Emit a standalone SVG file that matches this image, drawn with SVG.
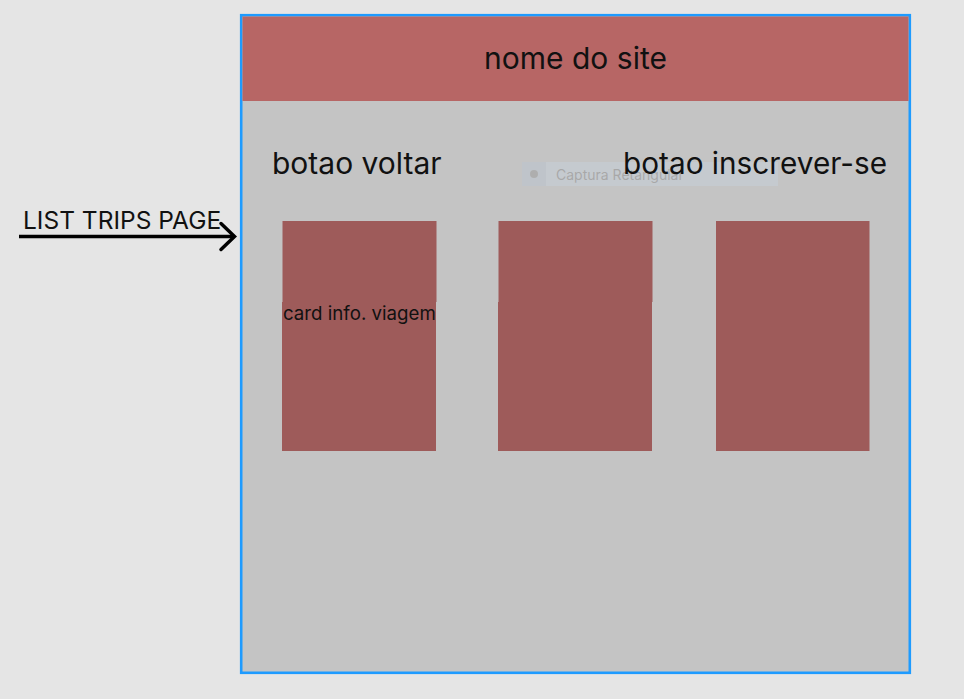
<svg xmlns="http://www.w3.org/2000/svg" width="964" height="699" viewBox="0 0 964 699">
<style>
text{font-family:Inter,"Noto Sans","Liberation Sans",sans-serif;fill:#111}
.card{fill:#9e5b5a}
.big{font-size:30px}
</style>
<rect x="0" y="0" width="964" height="699" fill="#e5e5e5"/>
<g id="frame">
<rect x="241.2" y="15.2" width="668.6" height="657.6" fill="#c4c4c4" stroke="#1e9bff" stroke-width="2.6"/>
</g>
<g id="header">
<rect x="242.5" y="16.5" width="666" height="84.5" fill="#b76665"/>
<text x="575.5" y="69" class="big" text-anchor="middle">nome do site</text>
</g>
<g id="capture" opacity="0.35">
<rect x="522" y="162" width="256" height="24" fill="#c9d6e6"/>
<rect x="522" y="162" width="24" height="24" fill="#b8c6d6"/>
<circle cx="534" cy="174" r="4" fill="#888"/>
<text x="556" y="180" font-size="14" style="fill:#777">Captura Retangular</text>
</g>
<g id="btn-voltar">
<text x="272" y="174" class="big">botao voltar</text>
</g>
<g id="btn-inscrever">
<text x="623" y="174" class="big" textLength="264" lengthAdjust="spacingAndGlyphs">botao inscrever-se</text>
</g>
<g id="card1">
<rect class="card" x="282.5" y="221" width="154" height="81"/>
<rect class="card" x="282" y="302" width="154" height="149"/>
<text x="283" y="320" font-size="18.7">card info. viagem</text>
</g>
<g id="card2">
<rect class="card" x="498.5" y="221" width="154" height="81"/>
<rect class="card" x="498" y="302" width="154" height="149"/>
</g>
<g id="card3">
<rect class="card" x="716" y="221" width="153.5" height="81"/>
<rect class="card" x="716" y="302" width="153.5" height="149"/>
</g>
<g id="connectors">
<line x1="19" y1="236.5" x2="233" y2="236.5" stroke="#000" stroke-width="3.5"/>
<polyline points="221,223.5 234.5,236.5 221,249.5" fill="none" stroke="#000" stroke-width="3.5" stroke-linecap="round" stroke-linejoin="miter"/>
<text x="23" y="229" font-size="24.5">LIST TRIPS PAGE</text>
</g>
</svg>
